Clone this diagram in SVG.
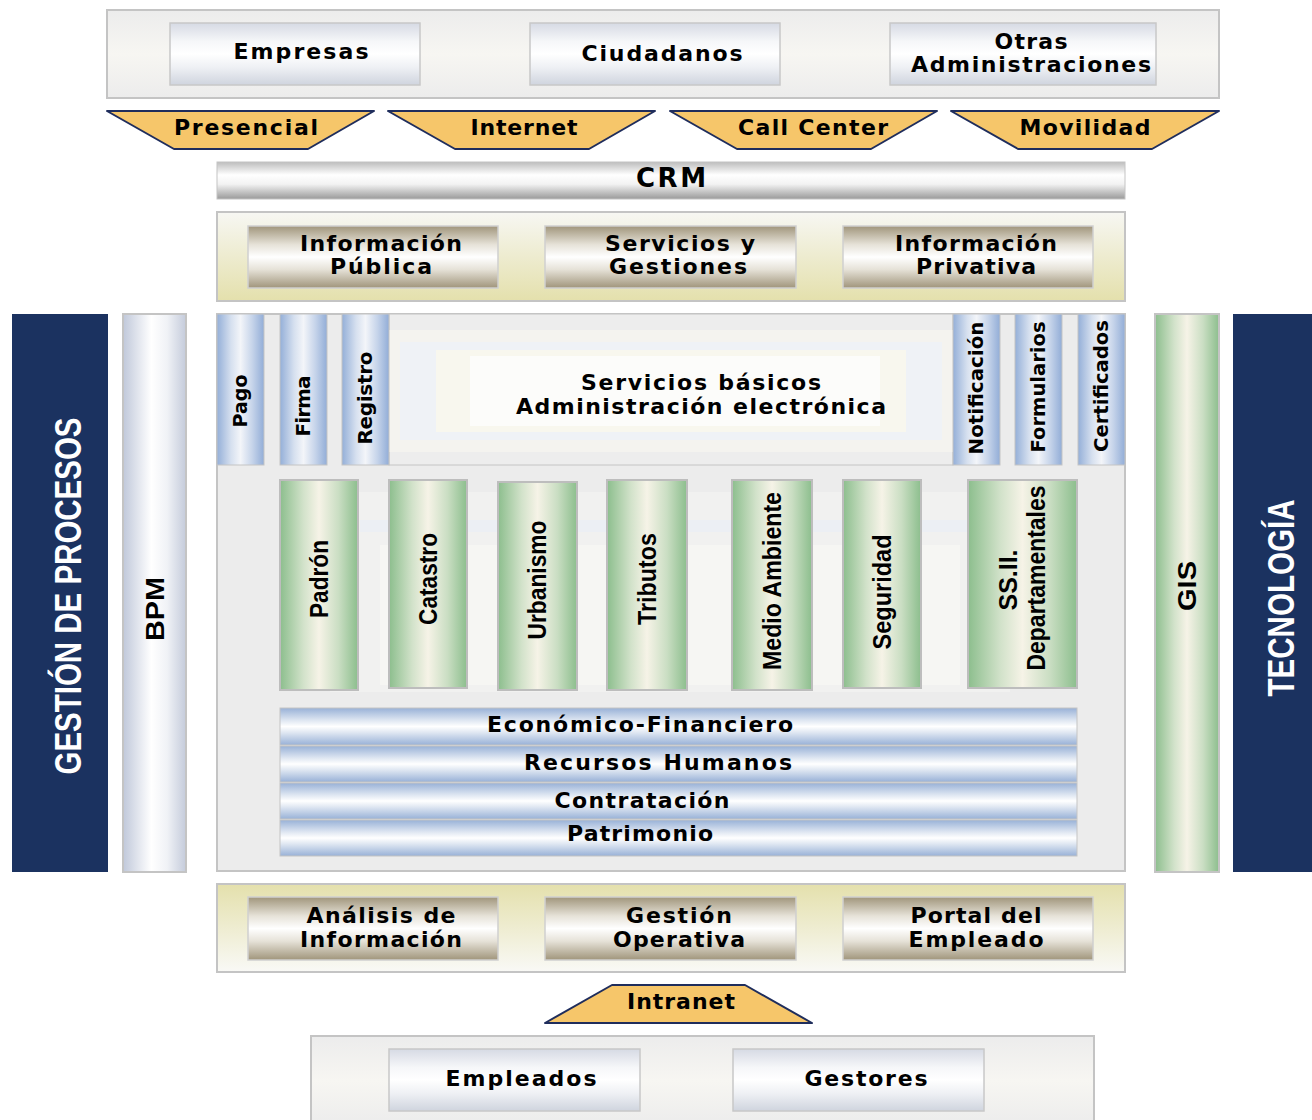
<svg xmlns="http://www.w3.org/2000/svg" width="1312" height="1120" viewBox="0 0 1312 1120">
<defs>
<linearGradient id="gPanelTop" x1="0" y1="0" x2="0" y2="1"><stop offset="0" stop-color="#ececec"/><stop offset="0.5" stop-color="#f7f6f2"/><stop offset="1" stop-color="#ececec"/></linearGradient>
<linearGradient id="gBox" x1="0" y1="0" x2="0" y2="1"><stop offset="0" stop-color="#d6dae4"/><stop offset="0.3" stop-color="#f6f7f9"/><stop offset="0.5" stop-color="#ffffff"/><stop offset="0.72" stop-color="#eef0f4"/><stop offset="1" stop-color="#cfd4de"/></linearGradient>
<linearGradient id="gCrm" x1="0" y1="0" x2="0" y2="1"><stop offset="0" stop-color="#bdbdbd"/><stop offset="0.35" stop-color="#ffffff"/><stop offset="0.6" stop-color="#f2f2f2"/><stop offset="1" stop-color="#9a9a9a"/></linearGradient>
<linearGradient id="gBeigeUp" x1="0" y1="0" x2="0" y2="1"><stop offset="0" stop-color="#f7f7f3"/><stop offset="1" stop-color="#e4e0ac"/></linearGradient>
<linearGradient id="gBeigeDown" x1="0" y1="0" x2="0" y2="1"><stop offset="0" stop-color="#e4e0ac"/><stop offset="1" stop-color="#f9f9f6"/></linearGradient>
<linearGradient id="gTaupe" x1="0" y1="0" x2="0" y2="1"><stop offset="0" stop-color="#a0957b"/><stop offset="0.3" stop-color="#e6e2d8"/><stop offset="0.5" stop-color="#ffffff"/><stop offset="0.7" stop-color="#e6e2d8"/><stop offset="1" stop-color="#a0957b"/></linearGradient>
<linearGradient id="gBlueV" x1="0" y1="0" x2="1" y2="0"><stop offset="0" stop-color="#94afd8"/><stop offset="0.3" stop-color="#d6e0ef"/><stop offset="0.5" stop-color="#f3f5f9"/><stop offset="0.75" stop-color="#c6d4ea"/><stop offset="1" stop-color="#92add7"/></linearGradient>
<linearGradient id="gGreen" x1="0" y1="0" x2="1" y2="0"><stop offset="0" stop-color="#8cbe8d"/><stop offset="0.3" stop-color="#d2e2ca"/><stop offset="0.5" stop-color="#f6f3e7"/><stop offset="0.75" stop-color="#cadec3"/><stop offset="1" stop-color="#8cbe8d"/></linearGradient>
<linearGradient id="gBpm" x1="0" y1="0" x2="1" y2="0"><stop offset="0" stop-color="#c0c8da"/><stop offset="0.45" stop-color="#ffffff"/><stop offset="0.7" stop-color="#f0f2f6"/><stop offset="1" stop-color="#c4cbdb"/></linearGradient>
<linearGradient id="gBlueH" x1="0" y1="0" x2="0" y2="1"><stop offset="0" stop-color="#98b1d7"/><stop offset="0.35" stop-color="#e2e9f3"/><stop offset="0.5" stop-color="#ffffff"/><stop offset="0.65" stop-color="#e2e9f3"/><stop offset="1" stop-color="#98b1d7"/></linearGradient>
<style>
.pnl{stroke:#c4c4c4;stroke-width:2}
.box{fill:url(#gBox);stroke:#c8c8c8;stroke-width:1.5}
.tbox{fill:url(#gTaupe);stroke:#cfcfcf;stroke-width:1.5}
.bv{fill:url(#gBlueV);stroke:#c4c4c4;stroke-width:1}
.gv{fill:url(#gGreen);stroke:#bdbdbd;stroke-width:2}
.bh{fill:url(#gBlueH);stroke:#c4c4c4;stroke-width:1}
.ch{fill:#f6c66a;stroke:#1f2d5c;stroke-width:2;stroke-linejoin:round}
.navy{fill:#1b3260}
text{font-family:"DejaVu Sans","Liberation Sans",sans-serif;font-weight:bold;fill:#000;text-anchor:middle}
.t{font-size:22px}
.n{font-family:"Liberation Sans","DejaVu Sans",sans-serif;font-size:26px}
.w{fill:#fff;font-family:"Liberation Sans","DejaVu Sans",sans-serif;font-size:36px}
</style>
</defs>

<g id="top-panel">
<rect x="107" y="10" width="1112" height="88" fill="url(#gPanelTop)" class="pnl"/>
</g>
<g id="empresas"><rect x="170" y="23" width="250" height="62" class="box"/><text class="t" x="301" y="59" textLength="135" lengthAdjust="spacing">Empresas</text></g>
<g id="ciudadanos"><rect x="530" y="23" width="250" height="62" class="box"/><text class="t" x="662" y="61" textLength="161" lengthAdjust="spacing">Ciudadanos</text></g>
<g id="otras"><rect x="890" y="23" width="266" height="62" class="box"/><text class="t" x="1031" y="49" textLength="73" lengthAdjust="spacing">Otras</text><text class="t" x="1031" y="72" textLength="240" lengthAdjust="spacing">Administraciones</text></g>

<g id="presencial"><path class="ch" d="M107 111 H374 L308 149 H174 Z"/><text class="t" x="246" y="135" textLength="144" lengthAdjust="spacing">Presencial</text></g>
<g id="internet"><path class="ch" d="M388 111 H655 L589 149 H455 Z"/><text class="t" x="524" y="135" textLength="107" lengthAdjust="spacing">Internet</text></g>
<g id="callcenter"><path class="ch" d="M670 111 H937 L871 149 H737 Z"/><text class="t" x="813" y="135" textLength="150" lengthAdjust="spacing">Call Center</text></g>
<g id="movilidad"><path class="ch" d="M951 111 H1219 L1152 149 H1018 Z"/><text class="t" x="1085" y="135" textLength="131" lengthAdjust="spacing">Movilidad</text></g>

<g id="crm"><rect x="217" y="162" width="908" height="37" fill="url(#gCrm)" stroke="#c4c4c4" stroke-width="1"/><text x="671" y="187" font-size="26" font-family="Liberation Sans, sans-serif" textLength="70" lengthAdjust="spacing">CRM</text></g>

<g id="canales-panel"><rect x="217" y="212" width="908" height="89" fill="url(#gBeigeUp)" class="pnl"/></g>
<g id="info-publica"><rect x="248" y="226" width="250" height="62" class="tbox"/><text class="t" x="381" y="251" textLength="162" lengthAdjust="spacing">Información</text><text class="t" x="381" y="274" textLength="102" lengthAdjust="spacing">Pública</text></g>
<g id="servicios-gestiones"><rect x="545" y="226" width="251" height="62" class="tbox"/><text class="t" x="680" y="251" textLength="150" lengthAdjust="spacing">Servicios y</text><text class="t" x="678" y="274" textLength="138" lengthAdjust="spacing">Gestiones</text></g>
<g id="info-privativa"><rect x="843" y="226" width="250" height="62" class="tbox"/><text class="t" x="976" y="251" textLength="162" lengthAdjust="spacing">Información</text><text class="t" x="976" y="274" textLength="120" lengthAdjust="spacing">Privativa</text></g>

<g id="gestion-procesos"><rect x="12" y="314" width="96" height="558" class="navy"/><text class="w" transform="translate(68,596) rotate(-90)" dominant-baseline="central" textLength="357" lengthAdjust="spacingAndGlyphs">GESTIÓN DE PROCESOS</text></g>
<g id="bpm"><rect x="123" y="314" width="63" height="558" fill="url(#gBpm)" stroke="#c4c4c4" stroke-width="2"/><text class="n" font-size="37" transform="translate(155,609) rotate(-90)" dominant-baseline="central" textLength="64" lengthAdjust="spacingAndGlyphs">BPM</text></g>

<g id="nucleo">
<rect x="217" y="314" width="908" height="557" fill="#ececec" class="pnl"/>
<rect x="330" y="492" width="680" height="200" fill="#f1f1f0"/>
<rect x="360" y="520" width="620" height="12" fill="#e9eef5" opacity="0.7"/>
<rect x="380" y="545" width="580" height="140" fill="#f6f6f3"/>
</g>
<g id="servicios-basicos">
<rect x="389" y="314" width="564" height="151" fill="#ededed" stroke="#c4c4c4" stroke-width="1"/>
<rect x="389" y="330" width="564" height="122" fill="#f4f3ef"/>
<rect x="400" y="342" width="542" height="98" fill="#eff2f6"/>
<rect x="436" y="350" width="470" height="82" fill="#f8f7ee"/>
<rect x="470" y="356" width="410" height="70" fill="#fcfcfa"/>
<text class="t" x="701" y="390" textLength="240" lengthAdjust="spacing">Servicios básicos</text>
<text class="t" x="701" y="414" textLength="370" lengthAdjust="spacing">Administración electrónica</text>
</g>

<g id="pago"><rect x="217" y="314" width="47" height="151" class="bv"/><text font-size="19" transform="translate(240,401) rotate(-90)" dominant-baseline="central" textLength="53" lengthAdjust="spacing">Pago</text></g>
<g id="firma"><rect x="280" y="314" width="47" height="151" class="bv"/><text font-size="20" transform="translate(303,406) rotate(-90)" dominant-baseline="central" textLength="61" lengthAdjust="spacing">Firma</text></g>
<g id="registro"><rect x="342" y="314" width="47" height="151" class="bv"/><text font-size="20" transform="translate(365,398) rotate(-90)" dominant-baseline="central" textLength="93" lengthAdjust="spacing">Registro</text></g>
<g id="notificacion"><rect x="953" y="314" width="47" height="151" class="bv"/><text font-size="20" transform="translate(976,388) rotate(-90)" dominant-baseline="central" textLength="133" lengthAdjust="spacingAndGlyphs">Notificación</text></g>
<g id="formularios"><rect x="1015" y="314" width="47" height="151" class="bv"/><text font-size="20" transform="translate(1038,387) rotate(-90)" dominant-baseline="central" textLength="131" lengthAdjust="spacingAndGlyphs">Formularios</text></g>
<g id="certificados"><rect x="1078" y="314" width="47" height="151" class="bv"/><text font-size="20" transform="translate(1101,386) rotate(-90)" dominant-baseline="central" textLength="132" lengthAdjust="spacingAndGlyphs">Certificados</text></g>

<g id="padron"><rect x="280" y="480" width="78" height="210" class="gv"/><text class="n" transform="translate(319,579) rotate(-90)" dominant-baseline="central" textLength="78" lengthAdjust="spacingAndGlyphs">Padrón</text></g>
<g id="catastro"><rect x="389" y="480" width="78" height="208" class="gv"/><text class="n" transform="translate(428,579) rotate(-90)" dominant-baseline="central" textLength="92" lengthAdjust="spacingAndGlyphs">Catastro</text></g>
<g id="urbanismo"><rect x="498" y="482" width="79" height="208" class="gv"/><text class="n" transform="translate(537,580) rotate(-90)" dominant-baseline="central" textLength="119" lengthAdjust="spacingAndGlyphs">Urbanismo</text></g>
<g id="tributos"><rect x="607" y="480" width="80" height="210" class="gv"/><text class="n" transform="translate(647,579) rotate(-90)" dominant-baseline="central" textLength="92" lengthAdjust="spacingAndGlyphs">Tributos</text></g>
<g id="medio-ambiente"><rect x="732" y="480" width="80" height="210" class="gv"/><text class="n" transform="translate(772,581) rotate(-90)" dominant-baseline="central" textLength="178" lengthAdjust="spacingAndGlyphs">Medio Ambiente</text></g>
<g id="seguridad"><rect x="843" y="480" width="78" height="208" class="gv"/><text class="n" transform="translate(882,592) rotate(-90)" dominant-baseline="central" textLength="115" lengthAdjust="spacingAndGlyphs">Seguridad</text></g>
<g id="ssii-departamentales"><rect x="968" y="480" width="109" height="208" class="gv"/><text class="n" transform="translate(1008,580) rotate(-90)" dominant-baseline="central" textLength="61" lengthAdjust="spacingAndGlyphs">SS.II.</text><text class="n" transform="translate(1036,578) rotate(-90)" dominant-baseline="central" textLength="185" lengthAdjust="spacingAndGlyphs">Departamentales</text></g>

<g id="economico"><rect x="280" y="708" width="797" height="37" class="bh"/><text class="t" x="640" y="732" textLength="306" lengthAdjust="spacing">Económico-Financiero</text></g>
<g id="rrhh"><rect x="280" y="746" width="797" height="36" class="bh"/><text class="t" x="658" y="770" textLength="268" lengthAdjust="spacing">Recursos Humanos</text></g>
<g id="contratacion"><rect x="280" y="783" width="797" height="36" class="bh"/><text class="t" x="642" y="808" textLength="175" lengthAdjust="spacing">Contratación</text></g>
<g id="patrimonio"><rect x="280" y="820" width="797" height="36" class="bh"/><text class="t" x="640" y="841" textLength="146" lengthAdjust="spacing">Patrimonio</text></g>

<g id="gis"><rect x="1155" y="314" width="64" height="558" fill="url(#gGreen)" stroke="#c4c4c4" stroke-width="2"/><text class="n" font-size="38" transform="translate(1187,586) rotate(-90)" dominant-baseline="central" textLength="50" lengthAdjust="spacingAndGlyphs">GIS</text></g>
<g id="tecnologia"><rect x="1233" y="314" width="79" height="558" class="navy"/><text class="w" transform="translate(1281,598) rotate(-90)" dominant-baseline="central" textLength="197" lengthAdjust="spacingAndGlyphs">TECNOLOGÍA</text></g>

<g id="intranet-panel"><rect x="217" y="884" width="908" height="88" fill="url(#gBeigeDown)" class="pnl"/></g>
<g id="analisis"><rect x="248" y="897" width="250" height="63" class="tbox"/><text class="t" x="381" y="923" textLength="149" lengthAdjust="spacing">Análisis de</text><text class="t" x="381" y="947" textLength="162" lengthAdjust="spacing">Información</text></g>
<g id="gestion-operativa"><rect x="545" y="897" width="251" height="63" class="tbox"/><text class="t" x="679" y="923" textLength="106" lengthAdjust="spacing">Gestión</text><text class="t" x="679" y="947" textLength="132" lengthAdjust="spacing">Operativa</text></g>
<g id="portal-empleado"><rect x="843" y="897" width="250" height="63" class="tbox"/><text class="t" x="976" y="923" textLength="131" lengthAdjust="spacing">Portal del</text><text class="t" x="976" y="947" textLength="135" lengthAdjust="spacing">Empleado</text></g>

<g id="intranet"><path class="ch" d="M612 985 H745 L812 1023 H545 Z"/><text class="t" x="681" y="1009" textLength="108" lengthAdjust="spacing">Intranet</text></g>

<g id="usuarios-panel"><rect x="311" y="1036" width="783" height="90" fill="url(#gPanelTop)" class="pnl"/></g>
<g id="empleados"><rect x="389" y="1049" width="251" height="62" class="box"/><text class="t" x="521" y="1086" textLength="151" lengthAdjust="spacing">Empleados</text></g>
<g id="gestores"><rect x="733" y="1049" width="251" height="62" class="box"/><text class="t" x="866" y="1086" textLength="123" lengthAdjust="spacing">Gestores</text></g>

<g id="connectors"></g>
</svg>
